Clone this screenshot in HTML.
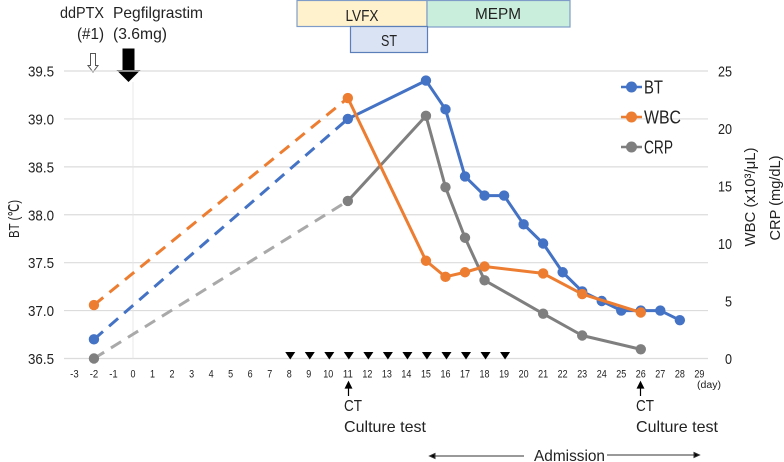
<!DOCTYPE html>
<html>
<head>
<meta charset="utf-8">
<style>
html,body{margin:0;padding:0;background:#fff;width:784px;height:462px;overflow:hidden}
svg{display:block}
text{font-family:"Liberation Sans",sans-serif;fill:#222}
</style>
</head>
<body>
<svg id="chart" width="784" height="462" viewBox="0 0 784 462" xmlns="http://www.w3.org/2000/svg">
  <rect x="297" y="0.5" width="130" height="26" fill="#fff2cc" stroke="#7f9cc8" stroke-width="1.2"/>
  <rect x="427" y="0.5" width="143" height="26.5" fill="#c9eedb" stroke="#7f9cc8" stroke-width="1.2"/>
  <rect x="350.5" y="26.5" width="77" height="26" fill="#dae3f3" stroke="#5b7fb8" stroke-width="1.2"/>
  <text x="362" y="21" font-size="16" text-anchor="middle" textLength="33" lengthAdjust="spacingAndGlyphs">LVFX</text>
  <text x="498" y="19" font-size="16" text-anchor="middle" textLength="46" lengthAdjust="spacingAndGlyphs">MEPM</text>
  <text x="389" y="46" font-size="16" text-anchor="middle" textLength="16" lengthAdjust="spacingAndGlyphs">ST</text>

  <text x="60" y="18" font-size="16" textLength="44" lengthAdjust="spacingAndGlyphs">ddPTX</text>
  <text x="77" y="39" font-size="16" textLength="27" lengthAdjust="spacingAndGlyphs">(#1)</text>
  <text x="113" y="18" font-size="16" textLength="90" lengthAdjust="spacingAndGlyphs">Pegfilgrastim</text>
  <text x="113" y="39" font-size="16" textLength="54" lengthAdjust="spacingAndGlyphs">(3.6mg)</text>
  <path d="M90.500 53.500H95.500V65.500H98L93 72L88 65.500H90.500Z" fill="#fff" stroke="#555" stroke-width="1"/>
  <path d="M122.500 48.500H134.500V70H140.500L128.500 82L116.500 70H122.500Z" fill="#000"/>

  <g id="plot"></g>

  <text transform="translate(19,219) rotate(-90)" font-size="15" text-anchor="middle" textLength="38" lengthAdjust="spacingAndGlyphs">BT (℃)</text>
  <text transform="translate(755,197) rotate(-90)" font-size="15" text-anchor="middle" textLength="99" lengthAdjust="spacingAndGlyphs">WBC (x10³/μL)</text>
  <text transform="translate(780,198) rotate(-90)" font-size="15" text-anchor="middle" textLength="85" lengthAdjust="spacingAndGlyphs">CRP (mg/dL)</text>
  <text x="697" y="388" font-size="10" textLength="24" lengthAdjust="spacingAndGlyphs">(day)</text>

  <g>
    <line x1="621" x2="642" y1="87" y2="87" stroke="#4472c4" stroke-width="2.500"/>
    <circle cx="631.500" cy="87" r="5.500" fill="#4472c4"/>
    <text x="644" y="93.500" font-size="18" textLength="19" lengthAdjust="spacingAndGlyphs">BT</text>
    <line x1="621" x2="642" y1="117" y2="117" stroke="#ed7d31" stroke-width="2.500"/>
    <circle cx="631.500" cy="117" r="5.500" fill="#ed7d31"/>
    <text x="644" y="123.500" font-size="18" textLength="37" lengthAdjust="spacingAndGlyphs">WBC</text>
    <line x1="621" x2="642" y1="147" y2="147" stroke="#7f7f7f" stroke-width="2.500"/>
    <circle cx="631.500" cy="147" r="5.500" fill="#7f7f7f"/>
    <text x="644" y="153.500" font-size="18" textLength="29" lengthAdjust="spacingAndGlyphs">CRP</text>
  </g>

  <path d="M348.500 396V384M345.500 388L348.500 382L351.500 388Z" stroke="#000" stroke-width="1.200" fill="#000"/>
  <text x="344" y="411" font-size="16" textLength="18" lengthAdjust="spacingAndGlyphs">CT</text>
  <text x="344" y="432" font-size="16" textLength="82" lengthAdjust="spacingAndGlyphs">Culture test</text>
  <path d="M640.500 396V384M637.500 388L640.500 382L643.500 388Z" stroke="#000" stroke-width="1.200" fill="#000"/>
  <text x="636" y="411" font-size="16" textLength="18" lengthAdjust="spacingAndGlyphs">CT</text>
  <text x="636" y="432" font-size="16" textLength="82" lengthAdjust="spacingAndGlyphs">Culture test</text>

  <path d="M524 456H434M435 453.500L429.500 456L435 458.500Z" stroke="#333" stroke-width="1" fill="#000"/>
  <text x="534" y="461" font-size="16" textLength="71" lengthAdjust="spacingAndGlyphs">Admission</text>
  <path d="M607 455H695M694 452.500L699.500 455L694 457.500Z" stroke="#333" stroke-width="1" fill="#000"/>
</svg>
<script>
const xTickLabels = [-3,-2,-1,0,1,2,3,4,5,6,7,8,9,10,11,12,13,14,15,16,17,18,19,20,21,22,23,24,25,26,27,28,29];
const leftTickLabels = ['36.5','37.0','37.5','38.0','38.5','39.0','39.5'];
const rightTickLabels = [0,5,10,15,20,25];
const btDays = [-2,11,15,16,17,18,19,20,21,22,23,24,25,26,27,28];
const btValues = [36.7,39.0,39.4,39.1,38.4,38.2,38.2,37.9,37.7,37.4,37.2,37.1,37.0,37.0,37.0,36.9];
const wbcDays = [-2,11,15,16,17,18,21,23,26];
const wbcValues = [4.65,22.65,8.5,7.1,7.5,8.0,7.4,5.6,4.0];
const crpDays = [-2,11,15,16,17,18,21,23,26];
const crpValues = [0,13.7,21.1,14.9,10.5,6.8,3.9,2.0,0.8];
const treatmentDays = [8,9,10,11,12,13,14,15,16,17,18,19];

const NS = 'http://www.w3.org/2000/svg';
const plot = document.getElementById('plot');
function xPos(day){ return 133 + (day - 0) * 19.53; }
function yLeft(v){ return 358.5 - (v - 36.5) * 95.83; }
function yRight(v){ return 358.5 - v * 11.5; }
function make(tag, attrs, text){
  const el = document.createElementNS(NS, tag);
  for (const k in attrs) el.setAttribute(k, attrs[k]);
  if (text !== undefined) el.textContent = text;
  plot.appendChild(el);
  return el;
}

leftTickLabels.forEach(function(t){
  const y = yLeft(parseFloat(t));
  const g = make('line', {x1:64, x2:708, y1:y, y2:y, stroke:'#dcdcdc', 'stroke-width':1.2});
  
  
  const l = make('text', {x:54, y:y+5.5, 'font-size':15, 'text-anchor':'end', textLength:26, lengthAdjust:'spacingAndGlyphs'}, t);
  
  
});
rightTickLabels.forEach(function(t){
  const l = make('text', {x:732, y:yRight(t)+5.5, 'font-size':15, 'text-anchor':'end', textLength:String(t).length*7, lengthAdjust:'spacingAndGlyphs'}, String(t));
  
  
});
xTickLabels.forEach(function(t){
  const s = String(t);
  const l = make('text', {x:xPos(t), y:377.5, 'font-size':11, 'text-anchor':'middle', textLength:t < 0 ? 8.5 : s.length*5, lengthAdjust:'spacingAndGlyphs'}, s);
  
  
});
const zeroLine = make('line', {x1:xPos(0), x2:xPos(0), y1:82, y2:358.5, stroke:'#e6e6e6', 'stroke-width':0.9});



treatmentDays.forEach(function(d){
  const x = xPos(d) + 1;
  const tri = make('path', {d:'M'+(x-5)+' 352H'+(x+5)+'L'+x+' 359.500Z', fill:'#000'});
  
  
});

function drawSeries(name, days, values, yFn, color, dashColor){
  const dash = make('line', {x1:xPos(days[0]), y1:yFn(values[0]), x2:xPos(days[1]), y2:yFn(values[1]), stroke:dashColor, 'stroke-width':3, 'stroke-dasharray':'12 8'});
  
  
  const pts = days.slice(1).map(function(d, i){ return xPos(d) + ',' + yFn(values[i + 1]); }).join(' ');
  const line = make('polyline', {points:pts, fill:'none', stroke:color, 'stroke-width':3, 'stroke-linejoin':'round'});
  
  
  days.forEach(function(d, i){
    const c = make('circle', {cx:xPos(d), cy:yFn(values[i]), r:5.2, fill:color});
    
    
  });
}
drawSeries('bt', btDays, btValues, yLeft, '#4472c4', '#4472c4');
drawSeries('crp', crpDays, crpValues, yRight, '#7f7f7f', '#a9a9a9');
drawSeries('wbc', wbcDays, wbcValues, yRight, '#ed7d31', '#ed7d31');
</script>
</body>
</html>
